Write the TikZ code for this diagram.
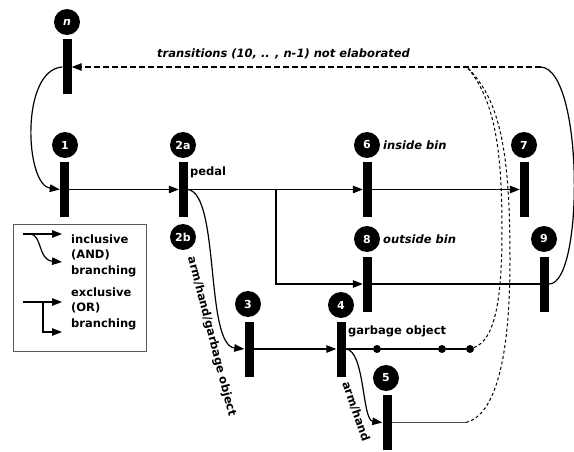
\documentclass[tikz,border=0pt]{standalone}
\usepackage{fontspec}
\setmainfont{DejaVu Sans}
\usetikzlibrary{arrows.meta}
\begin{document}
\begin{tikzpicture}[x=1pt,y=-1pt,
  bar/.style={rectangle,fill=black,minimum width=9pt,minimum height=55pt,inner sep=0pt},
  state/.style={circle,fill=black,minimum size=26pt,inner sep=0pt,text=white,
    font=\bfseries\fontsize{11}{13}\selectfont},
  dot/.style={circle,fill=black,minimum size=8pt,inner sep=0pt},
  line/.style={line width=1.2pt},
  arr/.style={line width=1.2pt,-{Triangle[length=10pt,width=7.5pt]}},
  longdash/.style={line width=1.1pt,dash pattern=on 6pt off 3pt},
  shortdash/.style={line width=1pt,dash pattern=on 3pt off 2.5pt},
  lbl/.style={inner sep=0pt,font=\bfseries\fontsize{11.5}{15.5}\selectfont},
  ilbl/.style={inner sep=0pt,font=\bfseries\itshape\fontsize{11.5}{15.5}\selectfont},
  legendbox/.style={draw=black!65,line width=0.8pt,minimum width=133pt,minimum height=127pt,inner sep=0pt}]
\useasboundingbox (0,0) rectangle (574,452);

% transition bars
\node[bar] (bn) at (67,67) {};
\node[bar] (b1) at (64.5,189.5) {};
\node[bar] (b2) at (183.5,189.5) {};
\node[bar] (b6) at (367.5,189.5) {};
\node[bar] (b7) at (524.5,189.5) {};
\node[bar] (b8) at (367.5,284) {};
\node[bar] (b9) at (544.5,284) {};
\node[bar] (b3) at (249,349) {};
\node[bar] (b4) at (341,349) {};
\node[bar] (b5) at (387,422.5) {};

% state numbers
\node[state,font=\bfseries\itshape\fontsize{11}{13}\selectfont] (sn) at (67,22) {n};
\node[state] (s1) at (65,145) {1};
\node[state] (s2a) at (183,145) {2a};
\node[state] (s2b) at (183,237) {2b};
\node[state] (s6) at (367,145) {6};
\node[state] (s7) at (524,145) {7};
\node[state] (s8) at (367,239) {8};
\node[state] (s9) at (544,239) {9};
\node[state] (s3) at (248,304) {3};
\node[state] (s4) at (341,305) {4};
\node[state] (s5) at (386,378) {5};

% labels
\node[ilbl,anchor=west] (tlab) at (157,54) {transitions (10, .. , n-1) not elaborated};
\node[lbl,anchor=west] (pedal) at (190,172) {pedal};
\node[ilbl,anchor=west] (inbin) at (383,145) {inside bin};
\node[ilbl,anchor=west] (outbin) at (383,239) {outside bin};
\node[lbl,anchor=west] (garb) at (348,331) {garbage object};
\node[lbl,rotate=-75.5] (ahg) at (211.5,336.5) {arm/hand/garbage object};
\node[lbl,rotate=-70.7] (ah) at (356,411.5) {arm/hand};

% junction points
\coordinate (split) at (276,189.5);
\coordinate (tr) at (541,67);
\coordinate (merge) at (467,67);
\coordinate (e5) at (466,422.5);
\node[dot] (d1) at (377,349) {};
\node[dot] (d2) at (442,349) {};
\node[dot] (d3) at (470,349) {};

% main flow
\draw[arr] (bn.west) .. controls (20,70) and (25,185) .. (b1.west);
\draw[arr] (b1) -- (b2);
\draw[arr] (b2) -- (b6);
\draw[arr] (b6) -- (b7);
\draw[arr] (split) |- (b8.west);
\draw[line] (b8) -- (b9);
\draw[line] (b9.east) .. controls (584,284) and (584,70) .. (tr);
\draw[longdash,-{Triangle[length=10pt,width=7.5pt]}] (tr) -- (bn.east);
\draw[arr] (b2.east) .. controls (220,195) and (205,345) .. (b3.west);
\draw[arr] (b3) -- (b4);
\draw[line] (b4) -- (d1) -- (d2) -- (d3);
\draw[arr] (b4.east) .. controls (365,350) and (362,420) .. (b5.west);
\draw[line,black!70] (b5) -- (e5);

% returning paths towards n
\draw[shortdash] (d3) .. controls (495,340) and (502,300) .. (502,230)
  .. controls (502,150) and (495,100) .. (merge);
\draw[shortdash] (e5) .. controls (495,415) and (510,360) .. (510,260)
  .. controls (510,150) and (500,100) .. (merge);

% legend
\node[legendbox] (legend) at (79.5,287.5) {};
\draw[arr] (23,234) -- (62,234);
\draw[arr] (30,234) .. controls (42,234) and (38,260) .. (62,262);
\draw[arr] (23,302) -- (62,302);
\draw[arr] (43,302) |- (62,332);
\node[lbl,anchor=west,align=left] (incl) at (71,255.5) {inclusive\\(AND)\\branching};
\node[lbl,anchor=west,align=left] (excl) at (71,308.5) {exclusive\\(OR)\\branching};
\end{tikzpicture}
\end{document}
